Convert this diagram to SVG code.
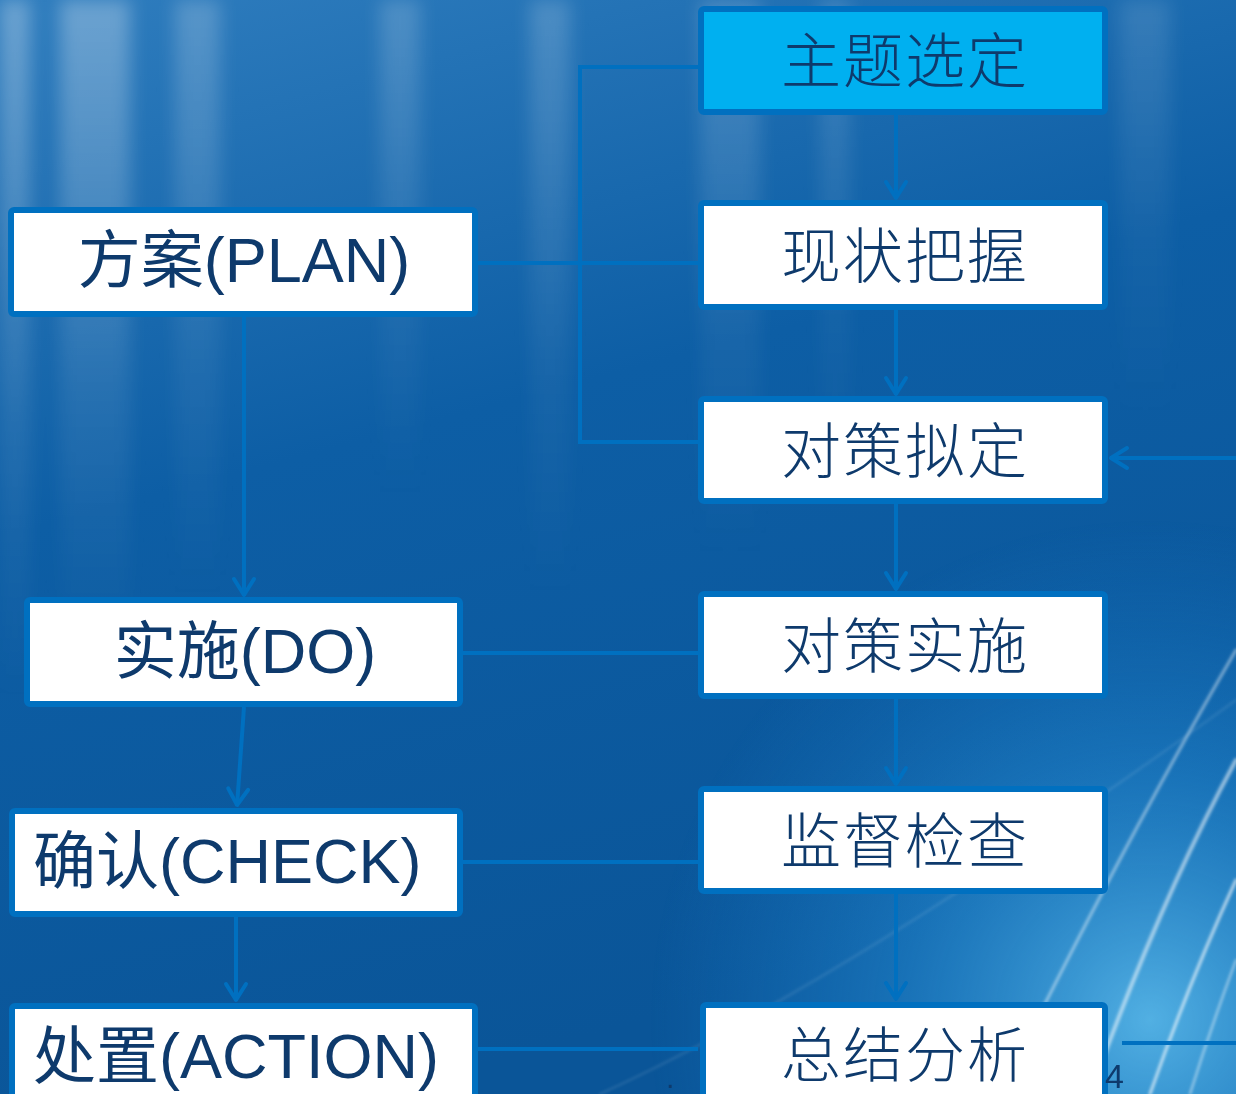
<svg xmlns="http://www.w3.org/2000/svg" width="1236" height="1094" viewBox="0 0 1236 1094">
<defs>
<linearGradient id="bg" x1="0" y1="0" x2="0.3" y2="1">
<stop offset="0" stop-color="#2F7DBE"/>
<stop offset="0.45" stop-color="#0D5EA5"/>
<stop offset="1" stop-color="#0A5598"/>
</linearGradient>
<linearGradient id="streak" x1="0" y1="0" x2="0" y2="1">
<stop offset="0" stop-color="#FFFFFF" stop-opacity="0.3"/>
<stop offset="0.6" stop-color="#FFFFFF" stop-opacity="0.08"/>
<stop offset="1" stop-color="#FFFFFF" stop-opacity="0"/>
</linearGradient>
<radialGradient id="glow" cx="1150" cy="1020" r="500" gradientUnits="userSpaceOnUse">
<stop offset="0" stop-color="#5FC0F0" stop-opacity="0.85"/>
<stop offset="0.5" stop-color="#2A95DD" stop-opacity="0.45"/>
<stop offset="1" stop-color="#1A80D0" stop-opacity="0"/>
</radialGradient>
<filter id="blur" x="-0.2" y="-0.2" width="1.4" height="1.4">
<feGaussianBlur stdDeviation="9"/>
</filter>
<filter id="blur2" x="-0.2" y="-0.2" width="1.4" height="1.4">
<feGaussianBlur stdDeviation="1.5"/>
</filter>
<marker id="arr" viewBox="0 0 22 26" refX="20" refY="13" markerWidth="22" markerHeight="26" markerUnits="userSpaceOnUse" orient="auto">
<path d="M3,3 L19,13 L3,23" fill="none" stroke="#0070C0" stroke-width="4" stroke-linecap="round" stroke-linejoin="round"/>
</marker>
<style>
.box{fill:#FFFFFF;stroke:#0070C0;stroke-width:6;}
.top{fill:#00B0F0;stroke:#0070C0;stroke-width:6;}
.t{font-family:"Liberation Sans","Noto Sans CJK SC",sans-serif;fill:#0E3A6C;}
.cn{font-family:"Noto Sans CJK SC",sans-serif;font-size:60px;font-weight:300;letter-spacing:2px;fill:#0E3A6C;text-anchor:middle;}
.c{fill:none;stroke:#0070C0;stroke-width:4;}
.a{fill:none;stroke:#0070C0;stroke-width:4;marker-end:url(#arr);}
</style>
</defs>
<rect width="1236" height="1094" fill="url(#bg)"/>
<g id="background">
<g filter="url(#blur)">
<rect x="0" y="0" width="30" height="700" fill="url(#streak)"/>
<rect x="60" y="0" width="70" height="650" fill="url(#streak)"/>
<rect x="175" y="0" width="45" height="600" fill="url(#streak)" opacity="0.7"/>
<rect x="380" y="0" width="40" height="500" fill="url(#streak)" opacity="0.6"/>
<rect x="530" y="0" width="40" height="600" fill="url(#streak)" opacity="0.6"/>
<rect x="700" y="0" width="60" height="560" fill="url(#streak)" opacity="0.6"/>
<rect x="820" y="0" width="30" height="500" fill="url(#streak)" opacity="0.5"/>
<rect x="1120" y="0" width="50" height="420" fill="url(#streak)" opacity="0.4"/>
</g>
<rect x="0" y="0" width="1236" height="1094" fill="url(#glow)"/>
<g stroke="#FFFFFF" fill="none" stroke-linecap="round" filter="url(#blur2)">
<path d="M1236,650 Q1120,850 1000,1094" stroke-width="3" stroke-opacity="0.45"/>
<path d="M1236,760 Q1160,900 1090,1094" stroke-width="4" stroke-opacity="0.55"/>
<path d="M1236,880 Q1190,980 1150,1094" stroke-width="3" stroke-opacity="0.65"/>
<path d="M1236,960 Q1210,1030 1190,1094" stroke-width="2" stroke-opacity="0.55"/>
<path d="M600,1094 Q850,980 1236,700" stroke-width="2" stroke-opacity="0.12"/>
</g>
</g>
<g id="connectors">
<polyline class="c" points="698,67 580,67 580,442 698,442"/>
<line class="c" x1="478" y1="263" x2="698" y2="263"/>
<line class="c" x1="463" y1="653" x2="698" y2="653"/>
<line class="c" x1="463" y1="862" x2="698" y2="862"/>
<line class="c" x1="478" y1="1049" x2="698" y2="1049"/>
<line class="c" x1="1122" y1="1043" x2="1236" y2="1043"/>
<line class="a" x1="896" y1="114" x2="896" y2="199"/>
<line class="a" x1="896" y1="310" x2="896" y2="395"/>
<line class="a" x1="896" y1="504" x2="896" y2="590"/>
<line class="a" x1="896" y1="699" x2="896" y2="785"/>
<line class="a" x1="896" y1="894" x2="896" y2="1000"/>
<line class="a" x1="1236" y1="458" x2="1110" y2="458"/>
<line class="a" x1="244" y1="317" x2="244" y2="596"/>
<line class="a" x1="244" y1="707" x2="237" y2="806"/>
<line class="a" x1="236" y1="917" x2="236" y2="1001"/>
</g>
<g id="n-zhuti">
<rect class="top" x="701" y="9" width="404" height="103" rx="3"/>
<text class="cn" x="905" y="83">主题选定</text>
</g>
<g id="n-xianzhuang">
<rect class="box" x="701" y="203" width="404" height="104" rx="3"/>
<text class="cn" x="905" y="278">现状把握</text>
</g>
<g id="n-duice-niding">
<rect class="box" x="701" y="399" width="404" height="102" rx="3"/>
<text class="cn" x="905" y="473">对策拟定</text>
</g>
<g id="n-duice-shishi">
<rect class="box" x="701" y="594" width="404" height="102" rx="3"/>
<text class="cn" x="905" y="668">对策实施</text>
</g>
<g id="n-jiandu">
<rect class="box" x="701" y="789" width="404" height="102" rx="3"/>
<text class="cn" x="905" y="863">监督检查</text>
</g>
<g id="n-zongjie">
<rect class="box" x="703" y="1005" width="402" height="100" rx="3"/>
<text class="cn" x="905" y="1077">总结分析</text>
</g>
<g id="n-plan">
<rect class="box" x="11" y="210" width="464" height="104" rx="3"/>
<text class="t" x="244" y="282" font-size="63" text-anchor="middle">方案(PLAN)</text>
</g>
<g id="n-do">
<rect class="box" x="27" y="600" width="433" height="104" rx="3"/>
<text class="t" x="245" y="673" font-size="63" text-anchor="middle">实施(DO)</text>
</g>
<g id="n-check">
<rect class="box" x="12" y="811" width="448" height="103" rx="3"/>
<text class="t" x="33" y="883" font-size="63">确认(CHECK)</text>
</g>
<g id="n-action">
<rect class="box" x="12" y="1006" width="463" height="100" rx="3"/>
<text class="t" x="33" y="1078" font-size="63">处置(ACTION)</text>
</g>
<text class="t" x="1105" y="1088" font-size="34">4</text>
<text class="t" x="666" y="1088" font-size="30">.</text>
</svg>
